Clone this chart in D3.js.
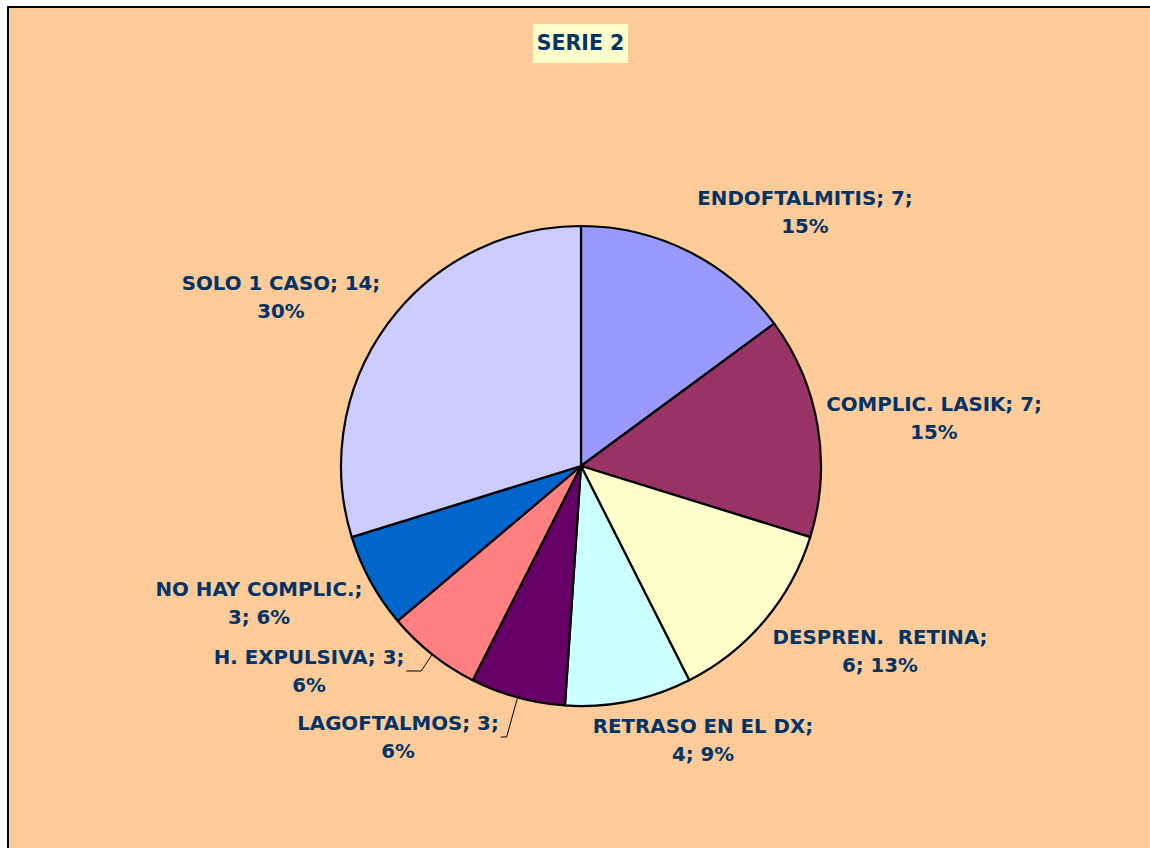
<!DOCTYPE html>
<html><head><meta charset="utf-8">
<script src="https://cdn.jsdelivr.net/npm/d3@7"></script>
<style>html,body{margin:0;padding:0;background:#fff;overflow:hidden} text{white-space:pre}</style>
</head><body>
<svg id="chart" width="1150" height="848"></svg>
<script>
const title = "SERIE 2";
const categories = ["ENDOFTALMITIS", "COMPLIC. LASIK", "DESPREN.  RETINA", "RETRASO EN EL DX", "LAGOFTALMOS", "H. EXPULSIVA", "NO HAY COMPLIC.", "SOLO 1 CASO"];
const values = [7, 7, 6, 4, 3, 3, 3, 14];
const colors = ["#9999FF", "#993366", "#FFFFCC", "#CCFFFF", "#660066", "#FF8080", "#0066CC", "#CCCCFF"];
const labelLines = [
  ["ENDOFTALMITIS; 7;", "15%"],
  ["COMPLIC. LASIK; 7;", "15%"],
  ["DESPREN.  RETINA;", "6; 13%"],
  ["RETRASO EN EL DX;", "4; 9%"],
  ["LAGOFTALMOS; 3;", "6%"],
  ["H. EXPULSIVA; 3;", "6%"],
  ["NO HAY COMPLIC.;", "3; 6%"],
  ["SOLO 1 CASO; 14;", "30%"]
];
// layout: label block centre offsets from pie centre, and whether a leader line is drawn
const labelOffsets = [[224,-254],[353,-48],[299,185],[122,274],[-183,271],[-272,205],[-322,137],[-300,-169]];
const leaders = [false,false,false,false,true,true,false,false];

const svg = d3.select("#chart");
const W = 1150, H = 848;
const cx = 581, cy = 466, R = 240;
const textColor = "#003366";
const font = "'DejaVu Sans', Verdana, sans-serif";

svg.append("rect").attr("x", 8).attr("y", 7).attr("width", W + 60).attr("height", H + 60)
  .attr("fill", "#FFCC99").attr("stroke", "#000").attr("stroke-width", 2);

// title
const tg = svg.append("g");
tg.append("rect").attr("x", 533).attr("y", 24).attr("width", 95).attr("height", 39).attr("fill", "#FFFFCC");
tg.append("text").attr("x", 580.5).attr("y", 50).attr("text-anchor", "middle")
  .attr("font-family", font).attr("font-weight", "bold").attr("font-size", 20.5)
  .attr("fill", textColor).text(title);

const pie = d3.pie().sort(null).value(d => d)(values);
const arc = d3.arc().innerRadius(0).outerRadius(R);
const g = svg.append("g").attr("transform", `translate(${cx},${cy})`);
g.selectAll("path.slice").data(pie).join("path").attr("class", "slice")
  .attr("d", arc).attr("fill", (d, i) => colors[i])
  .attr("stroke", "#000").attr("stroke-width", 2.2).attr("stroke-linejoin", "round");

const fs = 19.8, lh = 28;
pie.forEach((d, i) => {
  const [ox, oy] = labelOffsets[i];
  const t = g.append("text").attr("text-anchor", "middle")
    .attr("font-family", font).attr("font-weight", "bold").attr("font-size", fs)
    .attr("fill", textColor);
  labelLines[i].forEach((ln, k) => {
    t.append("tspan").attr("x", ox).attr("y", oy - lh / 2 + k * lh + fs * 0.36).text(ln);
  });
  if (leaders[i]) {
    const a = (d.startAngle + d.endAngle) / 2;
    const px = R * Math.sin(a), py = -R * Math.cos(a);
    const bb = t.node().getBBox();
    const rx = bb.x + bb.width + 2;
    g.append("path").attr("d", `M${px},${py}L${px - 11},${oy}L${rx},${oy}`)
      .attr("fill", "none").attr("stroke", "#000").attr("stroke-width", 1);
  }
});
</script>
</body></html>
